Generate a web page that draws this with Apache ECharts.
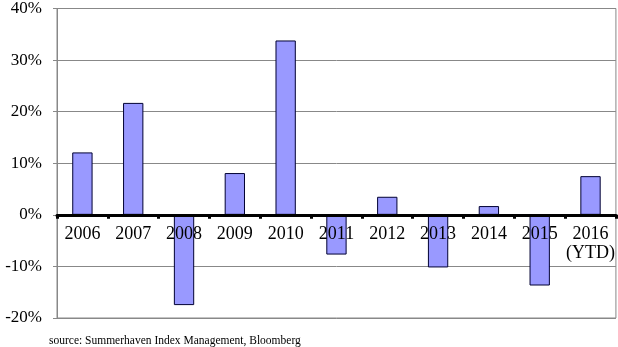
<!DOCTYPE html>
<html>
<head>
<meta charset="utf-8">
<script src="https://cdn.jsdelivr.net/npm/echarts@6/dist/echarts.min.js"></script>
<style>
  html, body { margin: 0; padding: 0; background: #fff; }
  #chart { width: 618px; height: 347px; }
</style>
</head>
<body>
<div id="chart"></div>
<script>
// Annual returns (%) by year
const years = ['2006', '2007', '2008', '2009', '2010', '2011', '2012', '2013', '2014', '2015', '2016\n(YTD)'];
const returns = [12.1, 21.7, -17.5, 8.1, 33.8, -7.7, 3.5, -10.2, 1.7, -13.7, 7.5];
const yTicks = { min: -20, max: 40, step: 10 };
const sourceNote = 'source: Summerhaven Index Management, Bloomberg';

const serif = '"Liberation Serif", "Times New Roman", serif';
const chart = echarts.init(document.getElementById('chart'));
chart.setOption({
  animation: false,
  backgroundColor: '#fff',
  grid: { left: 57, right: 2, top: 6, bottom: 29, show: true, borderColor: '#888', borderWidth: 1 },
  graphic: [{
    type: 'text', left: 49, top: 335,
    style: { text: sourceNote, font: '11.5px ' + serif, fill: '#000' }
  }],
  xAxis: {
    type: 'category',
    data: years,
    z: 5,
    axisLine: { onZero: true, lineStyle: { color: '#000', width: 3 } },
    axisTick: { show: true, length: 4, lineStyle: { color: '#000', width: 3 } },
    axisLabel: { color: '#000', fontFamily: serif, fontSize: 18, margin: -93, lineHeight: 19, interval: 0 },
    splitLine: { show: false }
  },
  yAxis: {
    type: 'value',
    min: yTicks.min, max: yTicks.max, interval: yTicks.step,
    axisLine: { show: true, lineStyle: { color: '#888', width: 1 } },
    axisTick: { show: true, length: 4, lineStyle: { color: '#888' } },
    axisLabel: { color: '#000', fontFamily: serif, fontSize: 17, margin: 15, formatter: v => v + '%' },
    splitLine: { lineStyle: { color: '#888', width: 1 } }
  },
  series: [{
    type: 'bar',
    data: returns,
    barWidth: '40%',
    itemStyle: { color: '#9999ff', borderColor: '#000033', borderWidth: 1 }
  }]
});
</script>
</body>
</html>
